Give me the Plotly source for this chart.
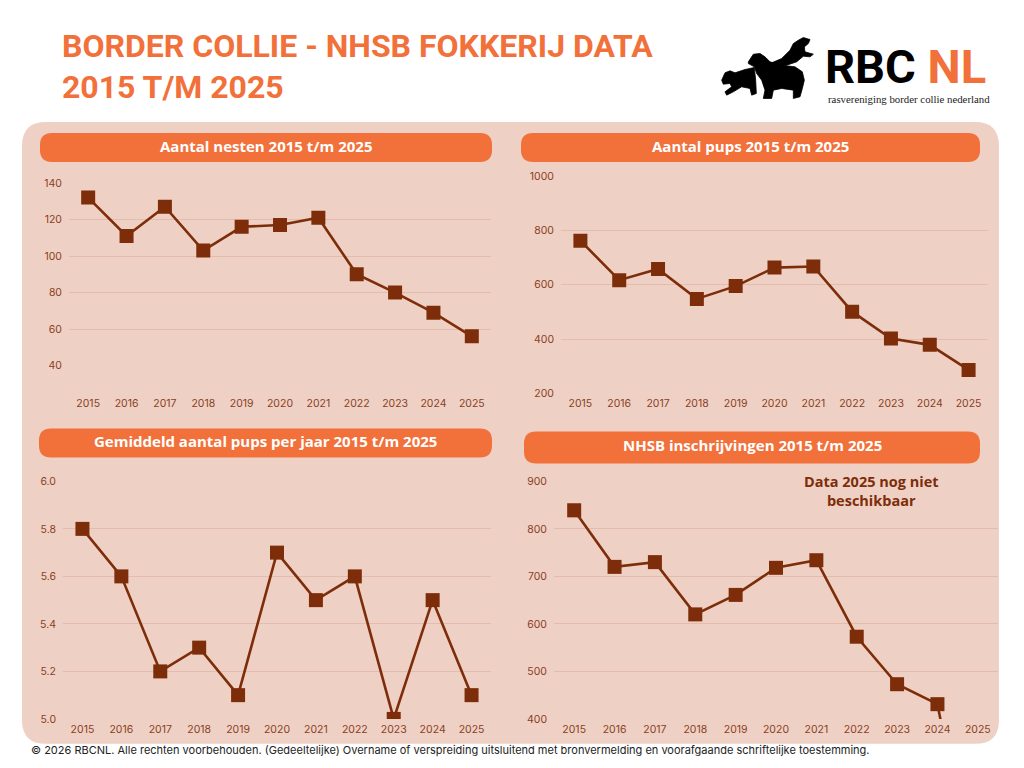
import plotly.graph_objects as go

years = [2015, 2016, 2017, 2018, 2019, 2020, 2021, 2022, 2023, 2024, 2025]
nesten = [132, 111, 127, 103, 116, 117, 121, 90, 80, 69, 56]
pups = [762, 617, 658, 548, 595, 663, 667, 501, 402, 379, 287]
gem_pups = [5.8, 5.6, 5.2, 5.3, 5.1, 5.7, 5.5, 5.6, 5.0, 5.5, 5.1]
# 2025 nog niet beschikbaar -> lijn zakt onder de as
inschrijvingen = [839, 720, 730, 620, 661, 718, 734, 573, 473, 431, 0]

titels = ["Aantal nesten 2015 t/m 2025", "Aantal pups 2015 t/m 2025",
          "Gemiddeld aantal pups per jaar 2015 t/m 2025", "NHSB inschrijvingen 2015 t/m 2025"]

W, H = 1024, 768
ORANJE = "#F2703A"
BRUIN = "#7E2D0A"
TICK = "#8C3E1F"
ROZE = "#EED1C4"
GRID = "#E4BCAD"


def px(x):
    return x / W


def py(y):
    # kleine correctie: de foto van de pagina wordt iets samengedrukt
    yd = (y - 5.7) / 0.985
    return 1 - yd / H


def pad(punten):
    s = "M " + " L ".join(f"{px(715 + a / 3):.5f},{py(30 + b / 3):.5f}" for a, b in punten)
    return s + " Z"


def rondje(x0, y0, x1, y1, r):
    # afgeronde rechthoek in paper-coordinaten
    pts = [
        ("M", x0 + r, y0), ("L", x1 - r, y0), ("Q", x1, y0, x1, y0 + r),
        ("L", x1, y1 - r), ("Q", x1, y1, x1 - r, y1), ("L", x0 + r, y1),
        ("Q", x0, y1, x0, y1 - r), ("L", x0, y0 + r), ("Q", x0, y0, x0 + r, y0),
    ]
    s = ""
    for p in pts:
        s += p[0] + " " + " ".join(
            f"{px(v):.5f}" if i % 2 == 0 else f"{py(v):.5f}" for i, v in enumerate(p[1:])
        ) + " "
    return s + "Z"


fig = go.Figure()

panelen = [
    # x-domein px, y-domein px (boven, onder), bereik, stap, data
    dict(x=(69, 491), y=(183, 366), rng=[40, 140], dt=20, data=nesten, fmt="", sto=30),
    dict(x=(561, 988), y=(176, 394), rng=[200, 1000], dt=200, data=pups, fmt="", sto=2),
    dict(x=(63, 491), y=(482, 720), rng=[5.0, 6.0], dt=0.2, data=gem_pups, fmt=".1f", sto=3),
    dict(x=(554, 998), y=(482, 720), rng=[400, 900], dt=100, data=inschrijvingen, fmt="", sto=3),
]

for i, p in enumerate(panelen):
    n = "" if i == 0 else str(i + 1)
    fig.add_trace(go.Scatter(
        x=years, y=p["data"], mode="lines+markers", xaxis="x" + n, yaxis="y" + n,
        line=dict(color=BRUIN, width=2.6),
        marker=dict(symbol="square", size=14, color=BRUIN),
        showlegend=False, hoverinfo="x+y",
    ))
    fig.layout["xaxis" + n] = dict(
        domain=[px(p["x"][0]), px(p["x"][1])], anchor="y" + n,
        range=[2014.5, 2025.5], tickvals=years, showgrid=False, zeroline=False,
        showline=False, ticks="", ticklabelstandoff=p["sto"],
        tickfont=dict(family="Inter", size=10.5, color=TICK), fixedrange=True,
    )
    fig.layout["yaxis" + n] = dict(
        domain=[py(p["y"][1]), py(p["y"][0])], anchor="x" + n,
        range=p["rng"], dtick=p["dt"], tick0=0, tickformat=p["fmt"],
        showgrid=True, gridcolor=GRID, gridwidth=1, zeroline=False,
        showline=False, ticks="", ticklabelstandoff=6,
        tickfont=dict(family="Inter", size=10.5, color=TICK), fixedrange=True,
    )

shapes = [dict(type="path", path=rondje(22, 122, 999, 745, 24), xref="paper", yref="paper",
               fillcolor=ROZE, line=dict(width=0), layer="below")]
pillen = [(40, 133, 492, 162), (521, 133, 980, 162), (39, 429, 492, 458), (524, 432, 980, 464)]
for (x0, y0, x1, y1) in pillen:
    shapes.append(dict(type="path", path=rondje(x0, y0, x1, y1, 12), xref="paper", yref="paper",
                       fillcolor=ORANJE, line=dict(width=0), layer="below"))

# ruwe silhouetten van de honden in het logo
honden = [
    [(100, 95), (115, 72), (135, 70), (150, 80), (165, 95), (200, 105), (240, 110), (262, 125),
     (268, 150), (262, 175), (255, 200), (235, 205), (235, 180), (200, 175), (175, 180),
     (170, 205), (145, 205), (150, 180), (140, 150), (125, 130), (118, 110), (100, 100)],
    [(20, 150), (30, 128), (45, 122), (60, 128), (90, 118), (118, 112), (122, 150), (124, 190),
     (110, 195), (105, 175), (80, 170), (55, 185), (35, 195), (30, 185), (50, 170), (45, 160),
     (25, 162)],
    [(165, 100), (200, 85), (225, 60), (235, 40), (250, 30), (265, 22), (285, 28), (280, 40),
     (268, 50), (270, 65), (295, 72), (285, 80), (265, 78), (245, 95), (215, 105), (180, 108)],
]
for h in honden:
    shapes.append(dict(type="path", path=pad(h), xref="paper", yref="paper",
                       fillcolor="black", line=dict(width=0.8, color="black")))

annotations = []
for (x0, y0, x1, y1), t in zip(pillen, titels):
    annotations.append(dict(
        x=px((x0 + x1) / 2), y=py((y0 + y1) / 2 - 2), xref="paper", yref="paper",
        text="<b>" + t + "</b>", showarrow=False, xanchor="center", yanchor="middle",
        font=dict(family="Open Sans", size=15, color="white"),
    ))

annotations += [
    dict(x=px(60), y=py(46), xref="paper", yref="paper", text="<b>BORDER COLLIE - NHSB FOKKERIJ DATA</b>",
         showarrow=False, xanchor="left", yanchor="middle",
         font=dict(family="Roboto", size=32, color=ORANJE)),
    dict(x=px(60), y=py(87), xref="paper", yref="paper", text="<b>2015 T/M 2025</b>",
         showarrow=False, xanchor="left", yanchor="middle",
         font=dict(family="Roboto", size=32, color=ORANJE)),
    dict(x=px(823), y=py(66), xref="paper", yref="paper",
         text="<b>RBC <span style='color:%s'>NL</span></b>" % ORANJE,
         showarrow=False, xanchor="left", yanchor="middle",
         font=dict(family="Roboto", size=47, color="black")),
    dict(x=px(826), y=py(99), xref="paper", yref="paper", text="rasvereniging border collie nederland",
         showarrow=False, xanchor="left", yanchor="middle",
         font=dict(family="Liberation Serif", size=10.8, color="#222222")),
    dict(x=px(871), y=py(492), xref="paper", yref="paper", text="<b>Data 2025 nog niet<br>beschikbaar</b>",
         showarrow=False, xanchor="center", yanchor="middle",
         font=dict(family="Open Sans", size=14.5, color=BRUIN)),
    dict(x=px(29), y=py(751), xref="paper", yref="paper",
         text="© 2026 RBCNL. Alle rechten voorbehouden. (Gedeeltelijke) Overname of verspreiding uitsluitend "
              "met bronvermelding en voorafgaande schriftelijke toestemming.",
         showarrow=False, xanchor="left", yanchor="middle",
         font=dict(family="Inter", size=11, color="#222222")),
]

fig.update_layout(
    width=W, height=H, margin=dict(l=0, r=0, t=0, b=0),
    paper_bgcolor="white", plot_bgcolor="rgba(0,0,0,0)",
    shapes=shapes, annotations=annotations,
)

# pagina zonder marge, zodat de figuur precies het venster vult
fig.write_html("out.html", config={"displayModeBar": False},
               post_script="document.body.style.margin='0';document.body.style.overflow='hidden';")
